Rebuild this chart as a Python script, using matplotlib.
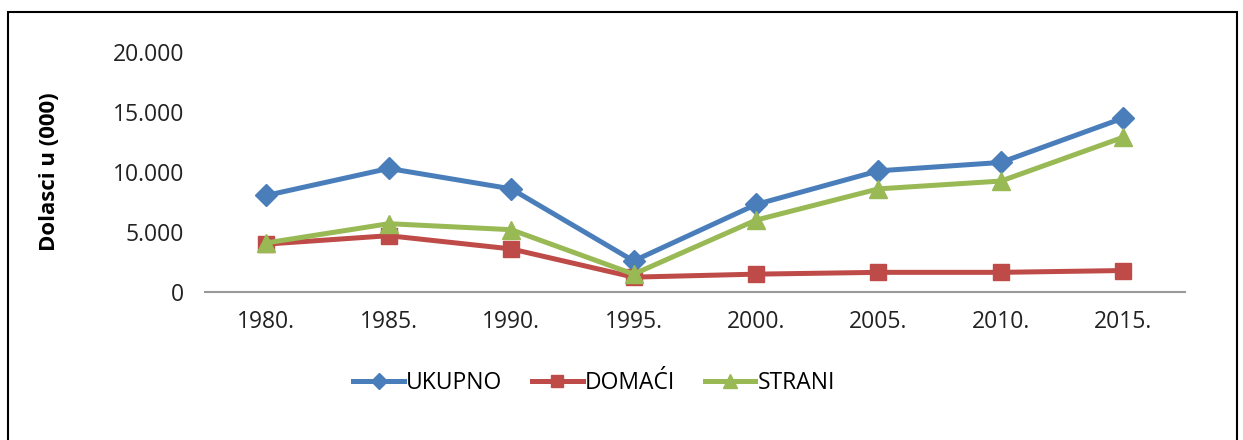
import matplotlib
matplotlib.use("Agg")
import matplotlib.pyplot as plt
from matplotlib.patches import Rectangle

plt.rcParams['font.family'] = ['Open Sans', 'DejaVu Sans']

# podaci
godine = ["1980.", "1985.", "1990.", "1995.", "2000.", "2005.", "2010.", "2015."]
ukupno = [8050, 10300, 8600, 2600, 7300, 10100, 10800, 14500]
domaci = [4000, 4700, 3600, 1250, 1500, 1650, 1650, 1800]
strani = [4100, 5700, 5200, 1500, 6000, 8600, 9250, 12900]
y_ticks = [0, 5000, 10000, 15000, 20000]
y_tick_labels = ["0", "5.000", "10.000", "15.000", "20.000"]

fig = plt.figure(figsize=(12.43, 4.40), dpi=100)
ax = fig.add_axes([0.165, 0.336, 0.788, 0.546])

x = range(len(godine))
ax.plot(x, ukupno, color="#4A7EBB", lw=3.6, marker="D", markersize=11, label="UKUPNO")
ax.plot(x, domaci, color="#BE4B48", lw=3.6, marker="s", markersize=12, label="DOMAĆI")
ax.plot(x, strani, color="#98B954", lw=3.6, marker="^", markersize=13, label="STRANI")

ax.set_xlim(-0.5, len(godine) - 0.5)
ax.set_ylim(0, 20000)
ax.set_xticks(list(x))
ax.set_xticklabels(godine, fontsize=16.5, color="#222222")
ax.set_yticks(y_ticks)
ax.set_yticklabels(y_tick_labels, fontsize=16.5, color="#222222")
ax.tick_params(axis="both", length=0)
ax.tick_params(axis="x", pad=13)
ax.tick_params(axis="y", pad=15)

for s in ["top", "right", "left"]:
    ax.spines[s].set_visible(False)
ax.spines["bottom"].set_color("#999999")
ax.spines["bottom"].set_linewidth(1.5)

ax.set_ylabel("Dolasci u (000)", fontsize=16, fontweight="bold", labelpad=38)

fig.legend(loc="center", bbox_to_anchor=(0.478, 0.13), ncol=3, frameon=False,
           fontsize=16.5, handlelength=2.2, columnspacing=1.3, handletextpad=0.1,
           markerscale=0.75)

# okvir oko grafikona
fig.patches.append(Rectangle((8 / 1243, -0.1), 1229 / 1243, 1.1 - 12 / 440,
                             transform=fig.transFigure, fill=False,
                             edgecolor="black", lw=1.5))

fig.savefig("out.png", dpi=100)
